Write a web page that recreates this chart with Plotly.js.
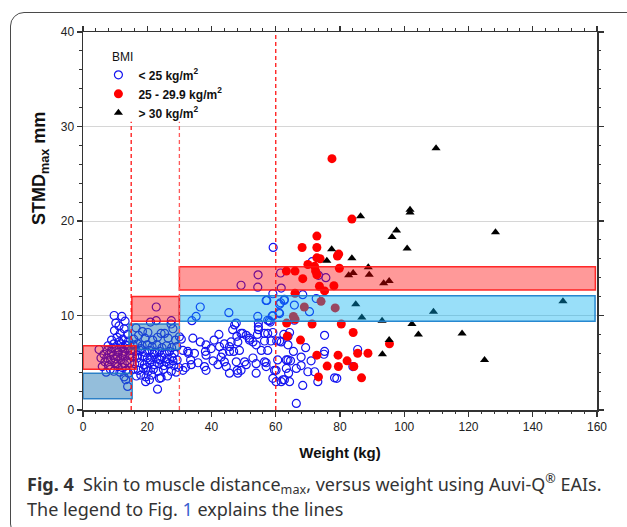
<!DOCTYPE html>
<html>
<head>
<meta charset="utf-8">
<script src="https://cdn.plot.ly/plotly-3.0.1.min.js"></script>
<style>
html,body{margin:0;padding:0;background:#fff;overflow:hidden;width:627px;height:527px;}
#chart{position:absolute;left:0;top:0;width:627px;height:527px;}
#frame{position:absolute;left:10px;top:12px;width:660px;height:524px;border:1.4px solid #4a4a4a;border-radius:14px;pointer-events:none;z-index:10;}
</style>
</head>
<body>
<div id="chart"></div>
<div id="frame"></div>
<script>
// ---- Data (weight kg, STMDmax mm) ----
const bmiLowX = [
 9.7,12.1,10.2,13.1,11.2,12.8,9.8,11.6,13.9,10.6,12.4,8.9,14.2,11.3,9.6,13.2,7.8,10.4,12.0,14.0,
 5.0,7.6,8.8,11.0,13.0,6.5,9.4,10.8,12.5,14.3,7.4,8.6,11.8,13.6,6.8,9.9,12.9,14.6,7.9,10.9,
 12.2,8.5,9.6,11.5,13.4,7.2,14.2,12.8,13.3,13.9,6.0,5.6,9.0,11.7,10.1,8.2,12.3,14.8,13.8,10.6,
 22.8,21.0,22.8,27.5,27.4,28.0,24.3,20.2,25.4,16.5,18.5,17.3,26.5,28.8,30.0,21.7,19.3,23.2,15.8,
 15.6,17.0,18.4,20.0,21.5,23.0,24.6,26.0,27.6,29.2,
 16.3,17.8,19.2,20.7,22.3,23.8,25.3,26.9,28.4,
 15.4,16.9,18.5,20.0,21.4,23.0,24.5,26.1,27.7,29.3,
 16.1,17.6,19.1,20.8,22.2,23.7,25.2,26.8,28.3,29.8,
 15.7,17.2,18.8,20.3,21.9,23.4,25.0,27.5,29.0,
 16.6,18.0,19.6,21.3,23.8,24.3,26.3,20.7,19.5,23.2,
 18.0,22.0,25.8,19.8,24.0,28.0,21.0,17.0,
 36.5,35.2,33.9,45.4,31.1,30.6,42.3,46.6,47.2,47.9,44.0,38.3,39.9,38.1,34.7,32.6,45.6,43.0,42.0,44.6,
 37.8,33.7,31.9,47.7,45.6,48.2,42.5,46.1,45.6,38.3,32.8,43.5,46.9,44.0,48.0,38.3,31.1,33.5,35.8,40.5,
 36.5,34.2,40.8,
 49.2,54.4,54.5,57.0,54.4,58.9,58.0,57.5,47.7,49.2,50.8,51.8,52.9,48.2,57.5,59.1,56.5,58.5,60.3,53.9,
 55.5,57.5,48.7,50.8,49.2,53.9,57.0,57.0,59.1,59.6,52.9,53.9,50.3,56.5,54.6,54.6,54.3,56.5,49.7,51.8,
 59.2,59.1,57.2,54.6,58.3,59.1,
 61.7,62.7,68.4,65.8,61.2,70.5,61.5,71.3,73.3,75.6,61.5,62.6,72.6,61.0,65.8,61.2,61.7,63.8,63.8,61.2,
 64.3,62.5,60.1,63.3,60.6,63.8,64.6,66.4,67.9,67.9,75.2,75.0,72.1,70.0,68.4,64.3,62.7,61.7,60.1,73.1,
 78.3,75.2,66.4,64.0,63.3,62.2,65.5,69.3,71.0,
 85.5,84.0,79.0
];
const bmiLowY = [
 10.0,9.9,9.2,9.4,8.9,8.6,8.4,8.1,8.0,7.7,7.5,7.4,7.3,7.2,7.0,6.9,6.8,6.6,6.6,6.5,
 6.4,6.3,6.2,6.1,6.2,5.9,5.8,5.6,5.7,5.8,5.5,5.3,5.3,5.2,5.1,5.0,4.9,5.0,4.7,4.6,
 4.5,4.3,4.1,4.0,4.2,4.0,3.9,3.5,3.2,2.5,4.6,5.5,6.5,7.0,5.4,5.9,5.9,6.3,6.8,4.9,
 10.9,9.3,9.45,9.45,9.1,8.6,8.1,8.2,8.1,8.7,8.3,7.9,7.6,7.4,7.75,7.4,7.6,7.7,7.5,
 6.9,7.0,6.8,6.9,6.7,6.9,6.6,6.8,6.6,6.7,
 6.2,6.3,6.1,6.3,6.1,6.2,6.0,6.2,6.0,
 5.6,5.5,5.7,5.5,5.6,5.4,5.6,5.4,5.6,5.3,
 4.9,5.0,4.8,5.0,4.8,4.9,4.7,4.9,4.7,4.5,
 4.3,4.2,4.4,4.1,4.3,4.1,4.3,4.1,4.0,
 3.6,3.7,3.5,3.7,3.35,3.4,3.6,3.2,3.0,2.2,
 6.5,5.9,5.1,4.5,5.3,5.2,5.3,5.8,
 10.9,9.9,9.45,10.3,6.3,7.5,8.0,8.5,9.0,7.8,7.0,6.9,6.5,6.2,6.0,6.2,6.2,5.6,4.8,4.6,
 4.6,4.8,4.5,5.1,3.9,3.9,6.7,7.2,6.7,5.8,6.0,6.0,6.2,5.1,4.2,4.2,4.2,5.3,5.0,5.2,
 7.2,7.6,7.4,
 13.2,13.0,14.3,11.6,9.9,9.95,9.45,9.5,9.2,8.1,7.9,7.4,7.2,7.2,8.1,8.2,7.3,7.3,7.3,6.9,
 6.3,6.3,6.3,4.8,4.2,3.9,4.6,5.0,3.35,4.2,5.5,4.9,5.1,5.1,8.8,8.5,8.0,8.1,8.1,7.6,
 17.2,12.3,11.6,9.2,9.3,9.95,
 12.9,11.7,12.2,11.1,10.2,10.4,14.5,15.7,14.25,14.0,11.35,11.6,11.8,10.3,9.5,11.2,7.2,7.8,6.9,7.3,
 8.2,8.0,4.2,4.4,5.3,5.3,5.2,4.4,5.6,4.7,6.2,5.9,4.05,4.05,2.6,3.0,3.2,3.0,3.0,3.0,
 3.4,7.9,0.7,3.9,5.3,3.2,6.2,6.6,5.2,
 6.4,4.6,3.35
];
const bmiMidX = [77.5,83.7,72.8,68.2,72.8,79.6,79.2,72.8,73.8,70.0,72.1,79.8,63.3,66.0,72.4,68.4,72.8,73.6,78.1,75.2,
 66.0,68.9,74.1,78.5,65.5,66.0,63.4,71.3,80.4,63.6,84.1,67.7,72.8,79.4,88.7,85.5,82.2,76.0,79.5,84.3,
 73.3,86.7,95.4];
const bmiMidY = [26.6,20.2,18.4,17.2,17.2,16.5,16.3,16.1,16.0,15.4,15.2,15.0,14.7,14.7,14.7,13.9,14.3,13.1,13.15,12.6,
 12.35,10.9,11.5,10.8,9.9,9.6,9.2,9.1,9.1,7.8,8.2,7.4,5.8,5.8,6.0,6.0,5.2,4.65,4.6,4.6,
 3.5,3.4,7.0];
const bmiHighX = [109.9,86.4,101.8,101.8,97.6,96.2,77.4,100.9,83.7,75.9,88.8,82.7,84.1,89.1,93.6,95.3,84.9,86.8,93.1,109.1,
 102.4,104.4,95.3,93.2,128.4,149.4,118.0,125.0];
const bmiHighY = [27.7,20.5,21.2,20.9,19.0,18.3,17.0,17.1,16.05,15.8,15.1,14.25,14.5,14.3,13.4,13.65,11.2,9.8,9.45,10.4,
 9.1,8.0,7.4,5.9,18.8,11.5,8.1,5.3];

// reference bands [x0, x1, y0, y1]
const redBands = [[0,16.5,4.3,6.8],[15.2,30,9.4,12.0],[30,159.5,12.7,15.15]];
const steelBands = [[0,15.3,1.2,3.9],[14.3,30,6.4,9.1]];
const skyBands = [[30,159.4,9.4,12.1]];
const weightCuts = [15, 30, 60];
const cutTops = [30.5, 30.5, 40];

// ---- Figure ----
const traces = [
 {x: bmiLowX, y: bmiLowY, type:'scatter', mode:'markers', name:'<b>&lt; 25 kg/m<sup>2</sup></b>',
  marker:{symbol:'circle-open', size:8, color:'rgb(20,20,240)', line:{width:1.2}}},
 {x: bmiMidX, y: bmiMidY, type:'scatter', mode:'markers', name:'<b>25 - 29.9 kg/m<sup>2</sup></b>',
  marker:{symbol:'circle', size:9, color:'rgb(255,0,0)'}},
 {x: bmiHighX, y: bmiHighY, type:'scatter', mode:'markers', name:'<b>&gt; 30 kg/m<sup>2</sup></b>',
  marker:{symbol:'triangle-up', size:8, color:'#000'}}
];

const shapes = [];
function rect(b, fill, line){
  shapes.push({type:'rect', xref:'x', yref:'y', x0:b[0], x1:b[1], y0:b[2], y1:b[3],
    fillcolor:fill, line:{color:line, width:1.5}, layer:'above'});
}
steelBands.forEach(b => rect(b, 'rgba(31,119,180,0.48)', 'rgba(30,120,195,0.9)'));
skyBands.forEach(b => rect(b, 'rgba(0,176,240,0.4)', 'rgba(30,130,205,0.95)'));
redBands.forEach(b => rect(b, 'rgba(255,0,0,0.4)', 'rgba(255,20,20,0.9)'));
const cutColors = ['rgb(255,20,20)','rgb(255,90,90)','rgb(255,20,20)'];
weightCuts.forEach((c,i) => shapes.push({type:'line', xref:'x', yref:'y', x0:c, x1:c, y0:0, y1:cutTops[i],
  line:{color:cutColors[i], width:1.3, dash:'4px,3px'}, layer:'above'}));

const axFont = {family:'"Liberation Sans", Arial, sans-serif', size:12, color:'#222'};
const layout = {
  width:627, height:527,
  margin:{l:83, r:30, t:32, b:117, pad:0},
  paper_bgcolor:'#fff', plot_bgcolor:'#fff',
  font: axFont,
  showlegend:true,
  legend:{x:0.03, y:0.925, xanchor:'left', yanchor:'top', bgcolor:'rgba(0,0,0,0)',
    font:{family:'"Liberation Sans", Arial, sans-serif', size:12, color:'#111'}, tracegroupgap:0},
  xaxis:{range:[0,160], dtick:20, tick0:0, ticks:'outside', ticklen:5, tickwidth:1.2, tickcolor:'#333',
    showline:true, linecolor:'#333', linewidth:1.5, mirror:'ticks', showgrid:false, zeroline:false,
    minor:{dtick:4, ticks:'outside', ticklen:2.5, tickcolor:'#333', tickwidth:1},
    tickfont:axFont,
    title:{text:'<b>Weight (kg)</b>', font:{family:'"Liberation Sans", Arial, sans-serif', size:15, color:'#111'}, standoff:14}},
  yaxis:{range:[0,40], dtick:10, tick0:0, ticks:'outside', ticklen:5, tickwidth:1.2, tickcolor:'#333',
    showline:true, linecolor:'#333', linewidth:1.5, mirror:'ticks', showgrid:true, gridcolor:'#d6d6d6', gridwidth:1,
    zeroline:false,
    minor:{dtick:2, ticks:'outside', ticklen:2.5, tickcolor:'#333', tickwidth:1},
    tickfont:axFont},
  shapes: shapes,
  annotations:[
    {text:'BMI', xref:'paper', yref:'paper', x:0.052, y:0.934, xanchor:'left', yanchor:'middle', showarrow:false,
     font:{family:'"Liberation Sans", Arial, sans-serif', size:12, color:'#111'}},
    {text:'<b>STMD<sub>max</sub> mm</b>', xref:'paper', yref:'paper', x:-0.084, y:0.64, xanchor:'center', yanchor:'middle',
     textangle:-90, showarrow:false, font:{family:'"Liberation Sans", Arial, sans-serif', size:18, color:'#111'}},
    {text:'<b>Fig. 4</b>  Skin to muscle distance<sub>max</sub>, versus weight using Auvi-Q<sup>®</sup> EAIs.',
     xref:'paper', yref:'paper', x:-0.113, y:-0.196, xanchor:'left', yanchor:'middle', showarrow:false, align:'left',
     font:{family:'"Noto Sans", "Open Sans", sans-serif', size:18, color:'#333'}},
    {text:'The legend to Fig. <span style="color:#3b5fd0">1</span> explains the lines',
     xref:'paper', yref:'paper', x:-0.113, y:-0.262, xanchor:'left', yanchor:'middle', showarrow:false, align:'left',
     font:{family:'"Noto Sans", "Open Sans", sans-serif', size:18, color:'#333'}}
  ]
};

Plotly.newPlot('chart', traces, layout, {displayModeBar:false, staticPlot:true});
</script>
</body>
</html>
